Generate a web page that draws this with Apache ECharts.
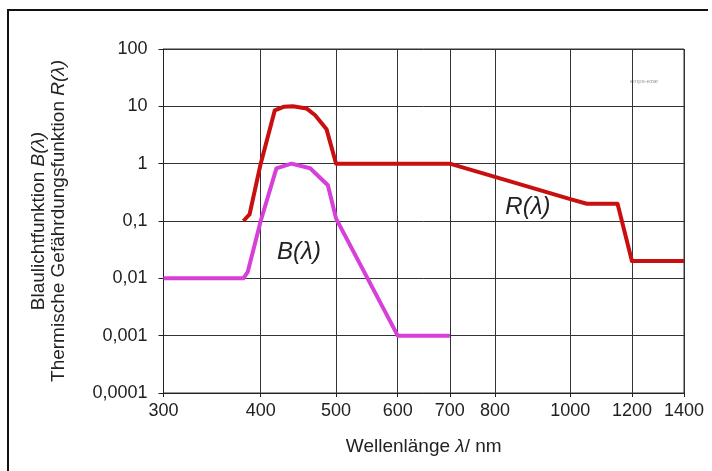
<!DOCTYPE html>
<html>
<head>
<meta charset="utf-8">
<script src="https://cdn.jsdelivr.net/npm/echarts@6/dist/echarts.min.js"></script>
<style>
  html, body { margin: 0; padding: 0; background: #fff; }
  #chart { width: 712px; height: 471px; }
</style>
</head>
<body>
<div id="chart"></div>
<script>
// wavelength ticks (nm) and log ticks of the y axis
var xTicks = [300, 400, 500, 600, 700, 800, 1000, 1200, 1400];
var yTicks = [0.0001, 0.001, 0.01, 0.1, 1, 10, 100];

// thermal hazard function R(λ)
var rWave = [380, 387, 400, 417, 428, 440, 458, 470, 486, 500, 600, 700, 800, 1000, 1050, 1150, 1200, 1400];
var rVal  = [0.1, 0.13, 1, 8.5, 9.8, 10, 9.2, 7, 4, 1, 1, 1, 0.59, 0.24, 0.2, 0.2, 0.02, 0.02];

// blue light function B(λ)
var bWave = [300, 380, 385, 400, 419, 438, 463, 488, 500, 600, 700];
var bVal  = [0.01, 0.01, 0.013, 0.1, 0.83, 1, 0.83, 0.42, 0.11, 0.001, 0.001];

var font = 'Liberation Sans, Arial, sans-serif';

function pairs(xs, ys) {
    return xs.map(function (x, i) { return [x, ys[i]]; });
}

var myChart = echarts.init(document.getElementById('chart'));
var option = {
    animation: false,
    backgroundColor: '#fff',
    grid: {
        left: 163.5,
        right: 28,
        top: 49,
        bottom: 78,
        show: true,
        borderColor: '#333',
        borderWidth: 1,
        outerBoundsMode: 'none'
    },
    xAxis: {
        type: 'log',
        logBase: 10,
        min: 300,
        max: 1400,
        name: 'Wellenlänge {i|λ}/ nm',
        nameLocation: 'middle',
        nameGap: 44,
        nameTextStyle: {
            fontFamily: font,
            fontSize: 19,
            color: '#222',
            rich: { i: { fontStyle: 'italic', fontFamily: font, fontSize: 19, color: '#222' } }
        },
        axisLine: { lineStyle: { color: '#222', width: 1 } },
        axisTick: { show: true, length: 4, customValues: xTicks, lineStyle: { color: '#222' } },
        minorTick: { show: false },
        axisLabel: {
            customValues: xTicks,
            margin: 9,
            fontFamily: font,
            fontSize: 18,
            color: '#222',
            formatter: function (v) {
                var t = xTicks.find(function (x) { return Math.abs(x - v) < 1e-6 * x; });
                return String(t !== undefined ? t : Math.round(v));
            }
        },
        splitLine: { show: true, lineStyle: { color: '#333', width: 1 } }
    },
    yAxis: {
        type: 'log',
        logBase: 10,
        min: 0.0001,
        max: 100,
        name: 'Blaulichtfunktion {i|B(λ)}\nThermische Gefährdungsfunktion {i|R(λ)}',
        nameLocation: 'middle',
        nameGap: 95,
        nameTextStyle: {
            fontFamily: font,
            fontSize: 19,
            lineHeight: 20,
            color: '#222',
            rich: { i: { fontStyle: 'italic', fontFamily: font, fontSize: 19, lineHeight: 20, color: '#222' } }
        },
        axisLine: { show: true, lineStyle: { color: '#222', width: 1 } },
        axisTick: { show: true, length: 5, lineStyle: { color: '#222' } },
        axisLabel: {
            margin: 16,
            fontFamily: font,
            fontSize: 18,
            color: '#222',
            formatter: function (v) {
                var t = yTicks.find(function (y) { return Math.abs(Math.log10(y) - Math.log10(v)) < 1e-6; });
                return String(t !== undefined ? t : v).replace('.', ',');
            }
        },
        splitLine: { show: true, lineStyle: { color: '#333', width: 1 } }
    },
    series: [
        {
            name: 'R',
            type: 'line',
            data: pairs(rWave, rVal),
            showSymbol: false,
            lineStyle: { color: '#c81010', width: 4, join: 'round' },
            itemStyle: { color: '#c81010' },
            markPoint: {
                symbol: 'circle',
                symbolSize: 0,
                label: {
                    show: true,
                    formatter: '{i|R(λ)}',
                    rich: { i: { fontStyle: 'italic', fontFamily: font, fontSize: 24, color: '#222' } }
                },
                data: [{ coord: [882, 0.175] }]
            }
        },
        {
            name: 'B',
            type: 'line',
            data: pairs(bWave, bVal),
            showSymbol: false,
            lineStyle: { color: '#d63fd8', width: 4, join: 'round' },
            itemStyle: { color: '#d63fd8' },
            markPoint: {
                symbol: 'circle',
                symbolSize: 0,
                label: {
                    show: true,
                    formatter: '{i|B(λ)}',
                    rich: { i: { fontStyle: 'italic', fontFamily: font, fontSize: 24, color: '#222' } }
                },
                data: [{ coord: [448, 0.0288] }]
            }
        }
    ],
    graphic: [
        { type: 'line', shape: { x1: 7, y1: 10, x2: 708, y2: 10 }, style: { stroke: '#111', lineWidth: 2 } },
        { type: 'line', shape: { x1: 8, y1: 10, x2: 8, y2: 471 }, style: { stroke: '#111', lineWidth: 2 } },
        { type: 'text', left: 630, top: 78, style: { text: 'emps-ezar', fontSize: 6, fill: '#999', fontFamily: font } }
    ]
};

option && myChart.setOption(option);
</script>
</body>
</html>
